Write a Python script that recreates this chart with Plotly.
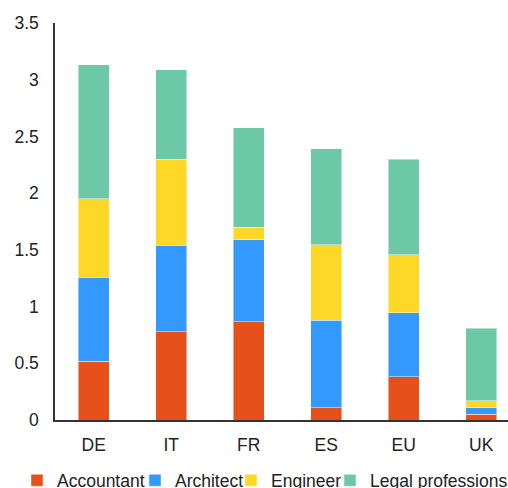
import plotly.graph_objects as go

categories = ["DE", "IT", "FR", "ES", "EU", "UK"]
accountant = [0.52, 0.78, 0.865, 0.11, 0.38, 0.05]
architect = [0.74, 0.76, 0.725, 0.77, 0.565, 0.06]
engineer = [0.69, 0.76, 0.11, 0.665, 0.51, 0.06]
legal = [1.18, 0.79, 0.875, 0.845, 0.845, 0.64]

series = [
    ("Accountant", accountant, "#E6511B"),
    ("Architect", architect, "#3399FF"),
    ("Engineer", engineer, "#FFD726"),
    ("Legal professions", legal, "#6DC8A8"),
]
legend_ids = ["legend", "legend2", "legend3", "legend4"]
# pixel x where each legend label's text begins
legend_text_px = [57, 175, 271, 370]

PLOT_L, PLOT_R = 55, 508
W = PLOT_R - PLOT_L

fig = go.Figure()
for (name, vals, col), lid in zip(series, legend_ids):
    fig.add_trace(go.Bar(
        x=categories, y=vals, name=name, legend=lid,
        marker=dict(color=col, line=dict(color="rgba(255,255,255,0.45)", width=1)),
        width=0.4,
    ))

legend_cfg = {}
for lid, tx in zip(legend_ids, legend_text_px):
    legend_cfg[lid] = dict(
        orientation="h", x=(tx - 40 - PLOT_L) / W, xanchor="left",
        y=-0.152, yanchor="middle", font=dict(size=17.5),
        bgcolor="rgba(0,0,0,0)", borderwidth=0,
    )

fig.update_layout(
    barmode="stack",
    width=508, height=488,
    margin=dict(l=PLOT_L, r=0, t=23, b=68, autoexpand=False),
    plot_bgcolor="white", paper_bgcolor="white",
    font=dict(family="Liberation Sans, Arial", size=17.5, color="#222"),
    showlegend=True,
    **legend_cfg,
)
fig.update_xaxes(range=[-0.5, 5.345], showline=True, linecolor="#333", linewidth=1.5,
                 ticks="", showgrid=False, ticklabelstandoff=8)
fig.update_yaxes(range=[0, 3.5], dtick=0.5, showline=True, linecolor="#333", linewidth=1.5,
                 ticks="", showgrid=False, zeroline=False, ticklabelstandoff=11)

fig.write_html("out.html", config={"displayModeBar": False},
               post_script="document.body.style.margin='0';document.body.style.overflow='hidden';")
